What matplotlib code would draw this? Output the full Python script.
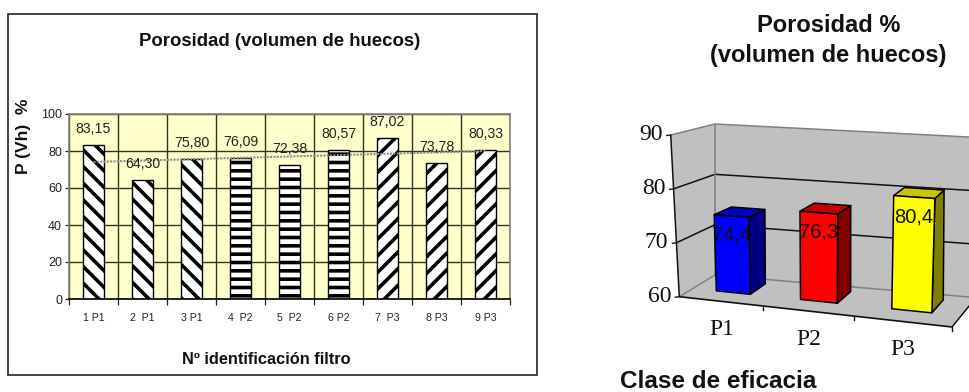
import numpy as np
import matplotlib
matplotlib.use("Agg")
import matplotlib.pyplot as plt
from matplotlib.patches import Polygon, Rectangle

W, H = 969, 392

# Porosity per filter
filter_labels = ["1 P1", "2  P1", "3 P1", "4  P2", "5  P2", "6 P2", "7  P3", "8 P3", "9 P3"]
filter_values = [83.15, 64.30, 75.80, 76.09, 72.38, 80.57, 87.02, 73.78, 80.33]
filter_hatches = ["\\\\", "\\\\", "\\\\", "--", "--", "--", "//", "//", "//"]
y_ticks = [0, 20, 40, 60, 80, 100]

# Mean porosity per efficiency class
class_labels = ["P1", "P2", "P3"]
class_values = [74.4, 76.3, 80.4]
class_text = ["74,4", "76,3", "80,4"]
class_front = ["#0000FF", "#FF0000", "#FFFF00"]
class_top = ["#0000C0", "#C00000", "#C8C800"]
class_side = ["#000080", "#800000", "#808000"]
z_ticks = [60, 70, 80, 90]

plt.rcParams["font.family"] = ["Liberation Sans", "DejaVu Sans"]
plt.rcParams["hatch.linewidth"] = 2.6

fig = plt.figure(figsize=(W / 100, H / 100), dpi=100, facecolor="white")

# Full-figure layer in pixel units for the frame and the perspective chart
canvas = fig.add_axes([0, 0, 1, 1], zorder=0)
canvas.set_xlim(0, W)
canvas.set_ylim(H, 0)
canvas.axis("off")
canvas.add_patch(Rectangle((8.5, 13.5), 529, 361.5, fc="white", ec="#222222", lw=1.2))

# Left chart: hatched bars with trend line
left, right, top, bottom = 69, 510, 114, 299
ax = fig.add_axes([left / W, 1 - bottom / H, (right - left) / W, (bottom - top) / H], zorder=1)
ax.set_facecolor("#FFFFCC")
x = np.arange(len(filter_values))
ax.set_xlim(-0.5, len(x) - 0.5)
ax.set_ylim(0, 100)
ax.set_axisbelow(True)
ax.yaxis.grid(True, color="#333322", lw=1)
ax.xaxis.grid(True, color="#333322", lw=1)
ax.set_xticks(np.arange(len(x) + 1) - 0.5)
ax.set_xticklabels([])
ax.set_yticks(y_ticks)
ax.tick_params(axis="y", labelsize=9, length=3, width=0.9, pad=2, colors="#222222")
ax.tick_params(axis="x", length=4, width=0.9, direction="out", color="#222222")
for name in ("top", "right", "left"):
    ax.spines[name].set_color("#808080")
    ax.spines[name].set_linewidth(1.2)
ax.spines["bottom"].set_color("black")
ax.spines["bottom"].set_linewidth(1.2)

for xi, v, h, lab in zip(x, filter_values, filter_hatches, filter_labels):
    ax.bar(xi, v, width=0.42, facecolor="white", edgecolor="black", hatch=h, lw=1.0, zorder=2)
    ax.annotate(f"{v:.2f}".replace(".", ","), (xi, v), xytext=(0, 11.5), textcoords="offset points",
                ha="center", va="center", fontsize=10.2, color="#222222", zorder=4)
    ax.annotate(lab, (xi, 0), xytext=(0, -14), textcoords="offset points",
                ha="center", va="center", fontsize=7.6, color="#222222")

# Least-squares trend across the filters
slope, intercept = np.polyfit(x, filter_values, 1)
ax.plot(x, slope * x + intercept, color="#8C8C8C", lw=1.5, ls=(0, (1, 0.6)), zorder=3)

canvas.text(280, 41, "Porosidad (volumen de huecos)", ha="center", va="center",
            fontsize=13.4, fontweight="bold", color="#111111")
canvas.text(266, 359, "Nº identificación filtro", ha="center", va="center",
            fontsize=11.8, fontweight="bold", color="#111111")
canvas.text(24, 136, "P (Vh)  %", ha="center", va="center", rotation=90,
            fontsize=12.5, fontweight="bold", color="#111111")

# Right chart: 3D bars through a trilinear perspective box
corners = {
    (0, 0, 0): (679.3, 296.7), (1, 0, 0): (952.0, 327.0),
    (0, 0, 1): (715.0, 275.0), (1, 0, 1): (976.0, 297.6),
    (0, 1, 0): (670.7, 135.0), (1, 1, 0): (961.0, 152.0),
    (0, 1, 1): (715.0, 124.0), (1, 1, 1): (976.0, 137.4),
}
Z_MIN, Z_MAX = z_ticks[0], z_ticks[-1]


def across(t):
    # Foreshortening along the category axis
    a = 1.13
    return t / (a + (1 - a) * t)


def project(t, value, depth):
    u = across(t)
    v = (value - Z_MIN) / (Z_MAX - Z_MIN)
    p = np.zeros(2)
    for (i, j, k), c in corners.items():
        w = (u if i else 1 - u) * (v if j else 1 - v) * (depth if k else 1 - depth)
        p += w * np.array(c)
    return p


def face(points, **kw):
    canvas.add_patch(Polygon([project(*p) for p in points], closed=True, **kw))


wall = "#C0C0C0"
face([(0, Z_MIN, 1), (1, Z_MIN, 1), (1, Z_MAX, 1), (0, Z_MAX, 1)], fc=wall, ec="none")
face([(0, Z_MIN, 0), (0, Z_MIN, 1), (0, Z_MAX, 1), (0, Z_MAX, 0)], fc=wall, ec="none")
face([(0, Z_MIN, 0), (1, Z_MIN, 0), (1, Z_MIN, 1), (0, Z_MIN, 1)], fc=wall, ec="none")


def segment(a, b, **kw):
    pa, pb = project(*a), project(*b)
    canvas.plot([pa[0], pb[0]], [pa[1], pb[1]], solid_capstyle="butt", **kw)


# Wall grid lines and box edges
for z in z_ticks:
    grey = z in (Z_MIN, Z_MAX)
    style = dict(color="#808080" if grey else "#111111", lw=1.1)
    segment((0, z, 0), (0, z, 1), **style)
    segment((0, z, 1), (1, z, 1), **style)
segment((0, Z_MIN, 1), (0, Z_MAX, 1), color="#808080", lw=1.1)
segment((1, Z_MIN, 0), (1, Z_MIN, 1), color="#111111", lw=1.1)
segment((0, Z_MIN, 0), (0, Z_MAX, 0), color="#111111", lw=1.1)
segment((0, Z_MIN, 0), (1, Z_MIN, 0), color="#111111", lw=1.2)

# Axis ticks and labels
for z in z_ticks:
    p = project(0, z, 0)
    canvas.plot([p[0] - 4, p[0]], [p[1] + 0.5, p[1]], color="#111111", lw=1)
    canvas.text(p[0] - 8, p[1], str(z), ha="right", va="center", fontsize=17,
                family=["Liberation Serif"], color="#111111")
for t in (1 / 3, 2 / 3, 1):
    p = project(t, Z_MIN, 0)
    canvas.plot([p[0], p[0]], [p[1], p[1] + 4], color="#111111", lw=1)

half, d0, d1 = 0.069, 0.38, 0.83
for i, (lab, v) in enumerate(zip(class_labels, class_values)):
    t = (i + 0.5) / len(class_values)
    l, r = t - half, t + half
    edge = dict(ec="black", lw=1.1, joinstyle="round", zorder=2.5)
    face([(r, Z_MIN, d0), (r, Z_MIN, d1), (r, v, d1), (r, v, d0)], fc=class_side[i], **edge)
    face([(l, v, d0), (r, v, d0), (r, v, d1), (l, v, d1)], fc=class_top[i], **edge)
    face([(l, Z_MIN, d0), (r, Z_MIN, d0), (r, v, d0), (l, v, d0)], fc=class_front[i], **edge)
    c = project(t, v - 3.6, d0)
    canvas.text(c[0], c[1], class_text[i], ha="center", va="center", fontsize=14.5, color="#111111")
    b = project(t, Z_MIN, 0)
    canvas.text(b[0] + 1.5, b[1] + 28.5, lab, ha="center", va="center", fontsize=17,
                family=["Liberation Serif"], color="#111111")

canvas.text(829, 25, "Porosidad %", ha="center", va="center", fontsize=17,
            fontweight="bold", color="#111111")
canvas.text(828, 55, "(volumen de huecos)", ha="center", va="center", fontsize=17,
            fontweight="bold", color="#111111")
canvas.text(620, 382, "Clase de eficacia", ha="left", va="center", fontsize=17.5,
            fontweight="bold", color="#111111", clip_on=False)

fig.savefig("out.png", dpi=100, facecolor="white")
